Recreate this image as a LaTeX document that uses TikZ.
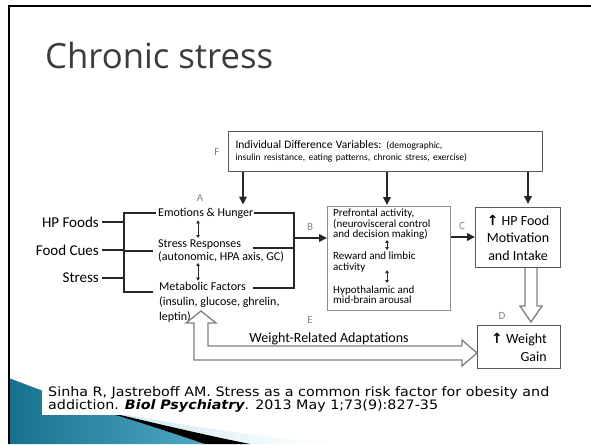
\documentclass[tikz,border=0pt]{standalone}
\usepackage{fontspec}
\setmainfont{Carlito}
\newfontfamily\titlefont{Open Sans}
\newfontfamily\citefont[FakeStretch=1.1]{DejaVu Sans}
\newfontfamily\symfont{DejaVu Sans}
\usetikzlibrary{arrows.meta,calc,positioning}

\definecolor{titlegray}{HTML}{3C3C3C}
\definecolor{lettergray}{HTML}{858585}
\definecolor{tealdark}{HTML}{17718C}
\definecolor{teallight}{HTML}{4FA9C4}
\definecolor{swooshpale}{HTML}{CDE8F1}

\newcommand{\uparrowsym}{{\symfont\bfseries ↑}}

\tikzset{
  box/.style={draw=black!65, line width=1pt, fill=white, inner sep=0pt},
  txt/.style={inner sep=0pt, align=left, font=\fontsize{12}{13}\selectfont},
  letter/.style={inner sep=0pt, text=lettergray, font=\fontsize{11}{11}\selectfont},
  conn/.style={line width=2pt, black!85},
  arr/.style={conn, -{Triangle[length=8pt,width=7.5pt]}},
  dbl/.style={line width=0.7pt, black!85, {Triangle[length=3pt,width=3.5pt]}-{Triangle[length=3pt,width=3.5pt]}},
  hollow/.style={draw=black!50, line width=1.3pt, fill=white},
}

\begin{document}
\begin{tikzpicture}[x=1pt,y=-1pt]
    \useasboundingbox (0,0) rectangle (591,444);
    \fill[white] (0,0) rectangle (591,444);

    % Swoosh in the corner
    \shade[left color=swooshpale, right color=white]
        (95,409) .. controls (180,425) and (260,437) .. (335,444) -- (200,444) -- cycle;
    \shade[left color=tealdark, right color=teallight]
        (9,378) .. controls (40,390) and (70,401) .. (95,409)
        .. controls (140,422) and (175,434) .. (205,444) -- (9,444) -- cycle;
    \fill[black] (95,409) .. controls (150,422) and (200,434) .. (250,444)
        -- (205,444) .. controls (175,434) and (140,422) .. (95,409) -- cycle;

    % Citation
    \fill[white] (42,383) rectangle (591,415);
    \node[anchor=north west, inner sep=0pt, align=left,
          font=\citefont\fontsize{13}{13.5}\selectfont] (cite) at (48,386)
        {Sinha R, Jastreboff AM. Stress as a common risk factor for obesity and\\
         addiction. {\bfseries\itshape Biol Psychiatry}. 2013 May 1;73(9):827-35};

    % Slide frame and title
    \draw[line width=2.3pt] (591,6) -- (9,6) -- (9,444);
    \node[anchor=base west, inner sep=0pt, text=titlegray,
          font=\titlefont\fontsize{34.7}{40}\selectfont] (title) at (45,68) {Chronic stress};

    % Individual differences
    \node[box, anchor=north west, minimum width=314, minimum height=40,
          text width=300, align=left] (idv) at (228,131)
        {\fontsize{11.5}{14}\selectfont Individual Difference Variables:
         \fontsize{9.5}{14}\selectfont (demographic,\\
         insulin resistance, eating patterns, chronic stress, exercise)};
    \node[letter] (lF) at (217,152) {F};

    % Inputs
    \node[txt, anchor=east, font=\fontsize{15}{15}\selectfont] (hpf) at (99,222) {HP Foods};
    \node[txt, anchor=east, font=\fontsize{15}{15}\selectfont] (cues) at (99,250) {Food Cues};
    \node[txt, anchor=east, font=\fontsize{15}{15}\selectfont] (stress) at (99,278) {Stress};

    % Column A
    \node[letter] (lA) at (200,198) {A};
    \node[txt, anchor=west] (emo) at (158,213) {Emotions \& Hunger};
    \node[txt, anchor=west] (sr) at (158,250.5) {Stress Responses\\(autonomic, HPA axis, GC)};
    \node[txt, anchor=west, font=\fontsize{12}{15}\selectfont] (mf) at (159,302)
        {Metabolic Factors\\(insulin, glucose, ghrelin,\\leptin)};

    \coordinate (brk) at (124,0);
    \coordinate (srin) at (153,251);
    \coordinate (mfin) at (153,292);
    \foreach \src in {hpf,cues,stress}
        \draw[conn] ([xshift=3pt]\src.east) -- (\src.east -| brk);
    \draw[conn] ([xshift=-2pt]emo.west) -| (brk |- mfin) -- (mfin);
    \draw[conn] (brk |- srin) -- (srin);

    \coordinate (lx) at (198,0);
    \draw[dbl] ([yshift=-2pt]emo.south -| lx) -- ([yshift=1pt]sr.north -| lx);
    \draw[dbl] ([yshift=-1pt]sr.south -| lx) -- ([yshift=1pt]mf.north -| lx);

    % Column B
    \node[box, draw=black!45, anchor=north west, minimum width=123, minimum height=104] (pfc) at (327,206) {};
    \node[txt, anchor=north west, font=\fontsize{11}{10.5}\selectfont] (pf1) at (333,209)
        {Prefrontal activity,\\(neurovisceral control\\and decision making)};
    \node[txt, anchor=north west, font=\fontsize{11}{10.5}\selectfont] (pf2) at (333,252)
        {Reward and limbic\\activity};
    \node[txt, anchor=north west, font=\fontsize{11}{10}\selectfont] (pf3) at (333,286)
        {Hypothalamic and\\mid-brain arousal};
    \coordinate (pfx) at (387,0);
    \draw[dbl] (pf1.south -| pfx) -- ([yshift=2pt]pf2.north -| pfx);
    \draw[dbl] (pfx |- pf2.center) ++(0,8) -- ([yshift=3pt]pf3.north -| pfx);

    \coordinate (jct) at (294,0);
    \coordinate (srout) at (253,248);
    \coordinate (mfout) at (253,288);
    \coordinate (bpt) at (0,238);
    \draw[conn] (emo.east) -| (jct |- mfout) -- (mfout);
    \draw[conn] (srout) -- (jct |- srout);
    \draw[arr] (jct |- bpt) -- (pfc.west |- bpt);
    \node[letter] (lB) at (310,227) {B};

    % Column C
    \node[box, anchor=north west, minimum width=85, minimum height=60, align=center,
          font=\fontsize{14}{17.5}\selectfont] (hp) at (475,207)
        {\uparrowsym\ HP Food\\Motivation\\and Intake};
    \coordinate (cpt) at (0,237);
    \draw[arr] (pfc.east |- cpt) -- (hp.west |- cpt);
    \node[letter] (lC) at (462,226) {C};

    % Arrows from individual differences
    \draw[arr, shorten >=3pt] (idv.south -| 243,0) -- (emo.north -| 243,0);
    \draw[arr, shorten >=1pt] (idv.south -| 387,0) -- (pfc.north -| 387,0);
    \draw[arr, shorten >=3pt] (idv.south -| 528,0) -- (hp.north -| 528,0);

    % Weight gain
    \node[box, anchor=north west, minimum width=83, minimum height=43, align=right,
          font=\fontsize{14}{18}\selectfont] (wg) at (477,325)
        {\uparrowsym\ Weight\\Gain};
    \node[letter] (lD) at (502,316) {D};
    \coordinate (hx) at (531,0);
    \filldraw[hollow] ($(hp.south -| hx)+(-6,0)$) -- ++(0,38) -- ++(-5,0)
        -- ($(wg.north -| hx)+(0,-3)$) -- ($(hp.south -| hx)+(11,38)$)
        -- ++(-5,0) -- ($(hp.south -| hx)+(6,0)$);

    % Weight-related adaptations
    \coordinate (ewtip) at (201,311);
    \coordinate (ewend) at (wg.west |- 0,353);
    \filldraw[hollow] (ewtip) -- ++(15,12) -- ++(-8,0) |- ($(ewend)+(-15,-7)$)
        -- ++(0,-6) -- (ewend) -- ++(-15,13) -- ++(0,-6) -| ($(ewtip)+(-7,12)$)
        -- ++(-8,0) -- cycle;
    \node[letter] (lE) at (310,320) {E};
    \node[txt, font=\fontsize{14}{14}\selectfont] (wra) at (329,339) {Weight-Related Adaptations};
\end{tikzpicture}
\end{document}
